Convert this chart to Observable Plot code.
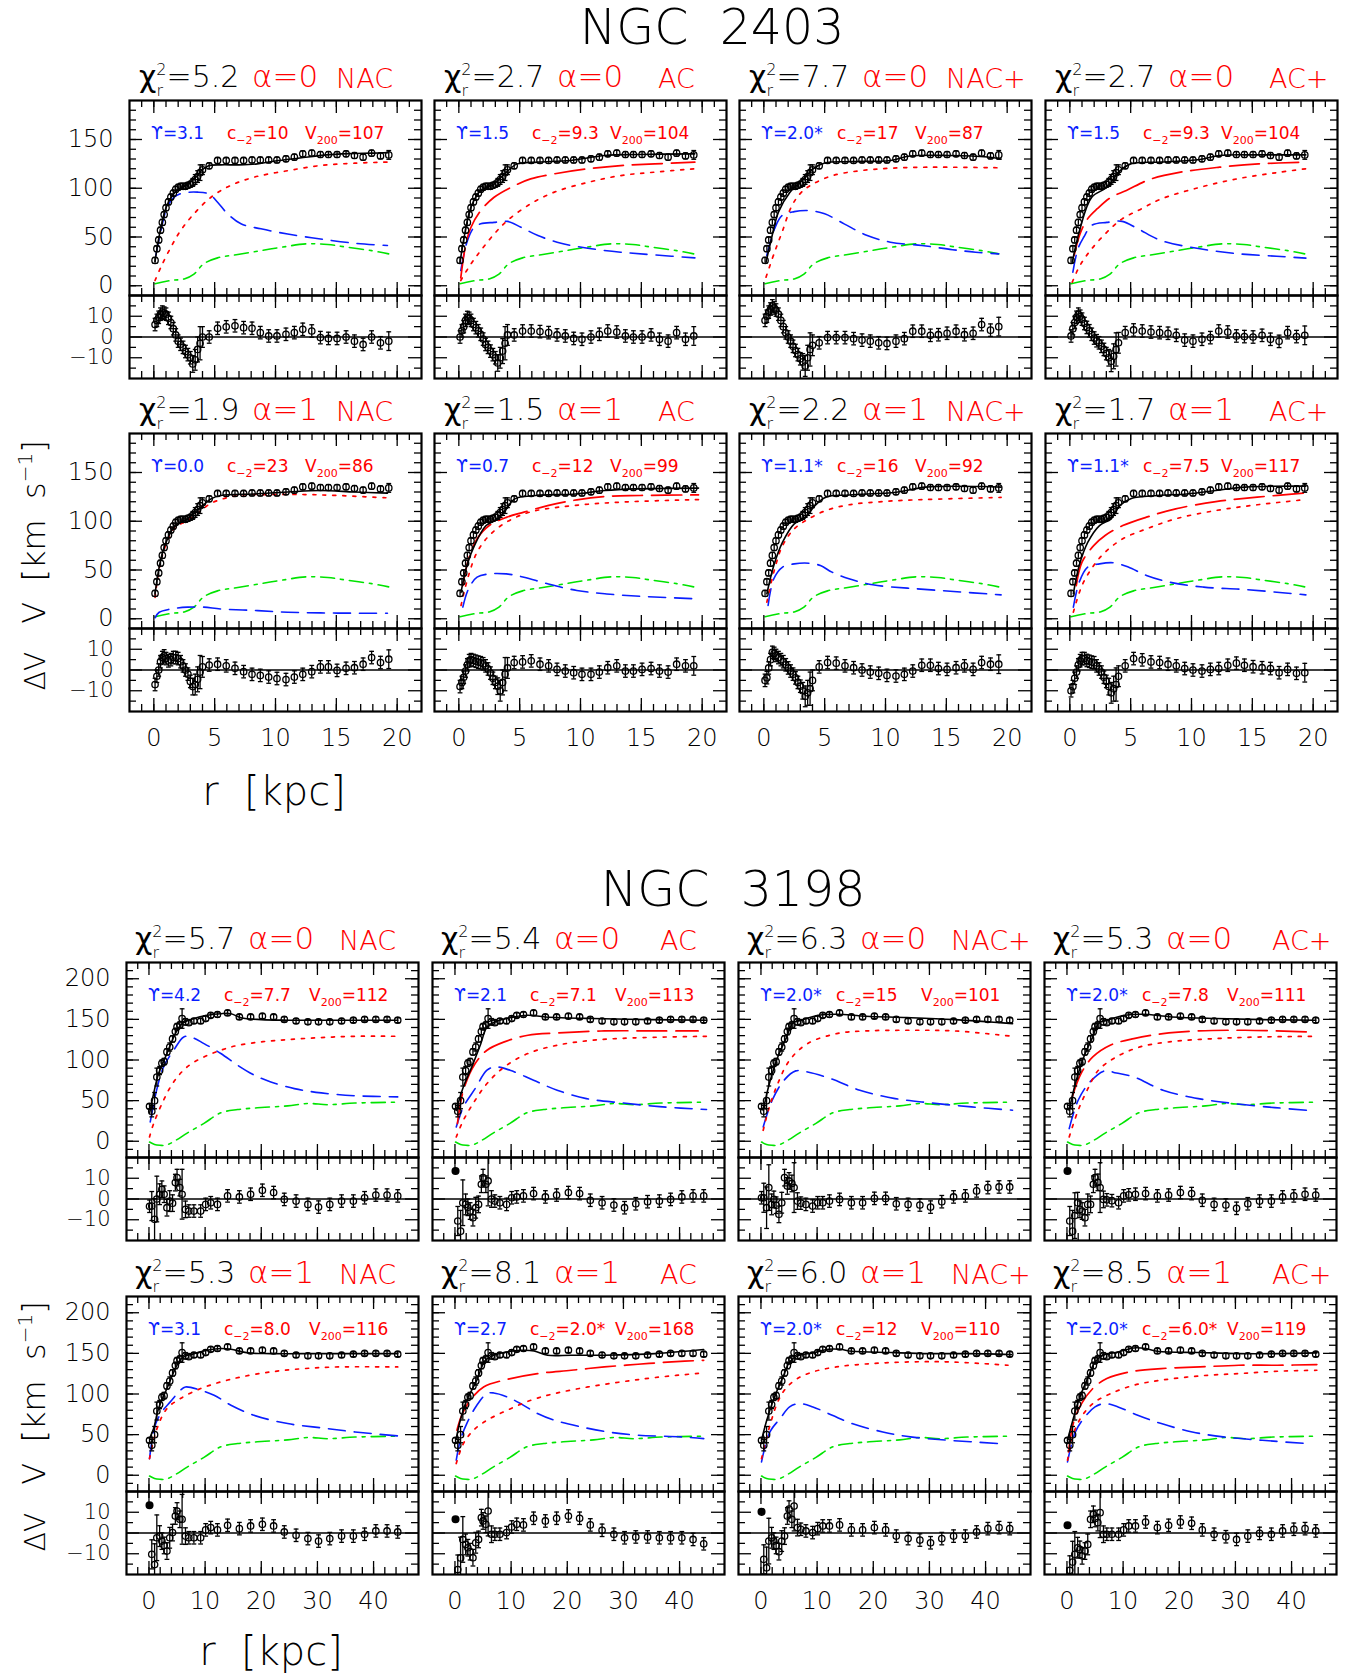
<!DOCTYPE html>
<html><head><meta charset="utf-8">
<script src="https://cdn.jsdelivr.net/npm/d3@7"></script>
<script src="https://cdn.jsdelivr.net/npm/@observablehq/plot@0.6"></script>
<style>
body{margin:0;background:#fff;}
#wrap{position:relative;width:1354px;height:1677px;overflow:hidden;background:#fff;}
#wrap svg.plt{position:absolute;}
#ovl{position:absolute;left:0;top:0;}
</style></head><body><div id="wrap"></div>
<script>
// ---------------- NGC 2403 observed data ----------------
const r2403 = [0.1,0.25,0.4,0.55,0.7,0.85,1.0,1.2,1.4,1.6,1.8,2.0,2.2,2.4,2.6,2.8,3.0,3.2,3.4,3.6,3.8,4.0,4.55,5.24,5.95,6.67,7.38,8.07,8.75,9.44,10.12,10.86,11.55,12.24,12.98,13.69,14.35,15.06,15.8,16.49,17.2,17.9,18.63,19.31];
const v2403 = [26,38,47,57,65,73,80,86,91,95,99,101,102,102,102,103,104,106,109,112,116,119,123,128.5,128.5,128.5,128.5,129,129,129,129,130.2,131.9,135.3,136,134.6,134.6,134.6,135.3,133.6,131.9,136,133.2,134.2];
const e2403 = [3,3,3,3,3,3,3,3,3,3,3,3,3,3,3,3,3,4,5,6,8,5,3,3,3,3,3,3,3,3,3,3,3,3,3,3,3,3,3,3,3,3,3,4.5];
const gas2403 = [[0.1,2],[1.4,5.4],[2.5,7],[3.3,12],[4.1,22.5],[5.24,28.6],[6.9,32],[8.8,36],[10.5,39.5],[12.6,43],[14.3,42.3],[15.9,39.5],[17.9,36],[19.3,32.7]];
// NGC 2403 model curves [r, V] per panel
const tot24_1 = [[0.1,25],[0.5,55],[1,80],[1.5,92],[2,99],[2.5,102],[3,106],[3.5,112],[4,119],[4.5,123],[5.5,124],[7,124],[8.5,125],[10,128],[12,131],[14,134],[16,135.5],[18,136],[19.3,136.5]];
const disk24_1 = [[0.16,31],[0.58,56.6],[1.1,80.6],[1.67,90.8],[2.36,95],[3.6,96],[4.55,94],[5.24,85.7],[6.06,73.8],[7.16,63.5],[8.8,58.4],[11,53],[13.7,48],[16.5,43.6],[19.2,41.3]];
const halo24_1 = [[0.1,5.4],[0.58,19],[1.4,39.5],[2.2,56.6],[3.3,73.8],[4.7,90.8],[6.3,102.8],[8.26,111.4],[11,118],[13.7,123.3],[16.5,125.7],[19.2,126.8]];
const tot24_2 = [[0.1,24],[0.44,50],[1,80.6],[1.8,97.7],[2.9,104.5],[3.9,116.5],[4.8,125],[6.5,126.8],[9.2,128.5],[12,133.6],[14.7,134.6],[19.4,135.3]];
const disk24_2 = [[0.16,15.6],[0.7,46],[1.26,60],[1.8,63.5],[2.9,65],[4,66],[5.1,60],[6.5,51.5],[8.4,43.6],[10.6,38.5],[13.3,34.4],[16.1,31.6],[19.4,28.6]];
const ach24_2 = [[0.16,8],[0.58,43],[1,60],[1.8,77],[2.9,90.8],[4.3,101],[5.9,109.6],[7.85,114.8],[10.6,120],[13.3,123.3],[16.1,125],[19.4,126.8]];
const halo24_2 = [[0.16,5.4],[1,22.5],[1.8,36],[2.9,53],[4,67],[5.9,84],[7.85,96],[10.6,106],[13.3,113],[16.1,116.5],[19.4,120]];
const tot24_3 = [[0.18,24],[0.56,44.7],[1.2,75.5],[2.15,96],[3.3,109.6],[4.06,120],[5,126],[7.2,127.3],[10.4,128.5],[12,133],[15.2,133.6],[18.4,132],[19.5,130]];
const disk24_3 = [[0.24,31],[0.88,58.4],[1.5,72],[2.5,76],[3.74,77],[5,73.8],[6.6,63.5],[8.5,51.5],[10.4,44.7],[13,41.3],[15.5,37],[17.4,34.4],[19.3,32.7]];
const halo24_3 = [[0.18,8.8],[0.88,34.4],[1.5,55],[2.3,82],[3.1,96],[4.06,104.5],[5.65,113],[7.9,118],[10.4,120.5],[13.6,121.6],[19.3,121]];
const tot24_4 = [[0.2,24],[0.83,58],[1.8,90.8],[3.05,101],[4,116.5],[5,125],[7.5,126.8],[10.7,129.5],[12.3,133.6],[15.5,134.2],[19.4,134.2]];
const disk24_4 = [[0.25,14],[0.67,38],[1.15,50],[1.8,62],[3.05,65],[4.3,66],[5.6,58.4],[7.5,46.4],[10.7,37.9],[13.9,32.7],[17,30.3],[19.4,28.3]];
const ach24_4 = [[0.35,31],[0.83,53],[1.46,68.6],[2.26,79],[3.4,90.8],[4.65,97.7],[6.55,109],[9.1,116.5],[12.3,121.6],[15.5,125],[19.4,126.8]];
const halo24_4 = [[0.2,3.7],[0.83,20.7],[1.8,37.9],[3.05,55],[4.3,68.6],[5.9,79],[7.5,89],[10.7,101],[13.9,110],[17,116],[19.4,120]];
const tot24_5 = [[0.1,25.6],[0.44,53],[0.85,73.4],[1.67,94],[2.77,102.5],[3.87,114.4],[4.7,123],[5.5,126.4],[8.26,128],[11,130],[13.7,131.5],[16.5,130],[19.2,128.8]];
const disk24_5 = [[0.1,1],[0.44,6.7],[1.4,10],[2.77,11.9],[4.1,11.9],[5.5,10],[8.26,8.5],[11,6.7],[13.7,6],[16.5,5.7],[19.2,5.7]];
const halo24_5 = [[0.1,22],[0.5,55],[1,76],[1.7,93],[2.8,101],[3.9,111],[4.7,118.5],[6.9,126.4],[9.6,127.4],[12.4,127.4],[15.1,126.4],[19.2,124]];
const tot24_6 = [[0.18,27],[0.66,54.6],[1.28,75],[2.24,95.6],[3.2,102.5],[3.9,112.7],[4.6,123],[6.3,126.4],[9.6,128],[12,131.5],[14.4,133.2],[19.7,134]];
const disk24_6 = [[0.33,12],[0.8,30.7],[1.5,42.6],[2.5,46],[3.9,46],[5.35,42.6],[7.3,35.8],[9.7,29],[12,25.6],[14.9,23],[19.7,20.4]];
const ach24_6 = [[0.33,34],[0.8,61.4],[1.5,82],[2.5,95.6],[3.9,104],[5.35,109.3],[7.3,116],[9.7,122],[12,125.4],[14.9,126.4],[19.7,127.1]];
const halo24_6 = [[0.18,13.6],[0.8,44.4],[1.5,68.3],[2.5,85.4],[3.9,99],[5.8,109.3],[8.2,114.4],[11.1,117.9],[14.4,120.2],[19.7,122.2]];
const tot24_7 = [[0.25,25.6],[0.82,54.6],[1.54,78.5],[2.5,97.3],[3.45,104],[4.2,116],[5.1,124.7],[7,127],[10.9,129.8],[13.3,135],[18,135.6],[19.5,135]];
const disk24_7 = [[0.35,13.6],[0.82,41],[1.54,53],[2.5,56.3],[3.7,57],[4.65,54.6],[5.6,47.8],[7,41],[8.96,34.8],[11.8,31.4],[15.6,28],[19.5,24.5]];
const halo24_7 = [[0.25,17],[0.82,47.8],[1.54,75],[2.5,92.2],[3.7,102.5],[5.1,111],[7,116.9],[9.9,120.3],[13.3,122.3],[19.5,124.4]];
const tot24_8 = [[0.29,25.6],[0.77,54.6],[1.48,78.5],[2.44,95.6],[3.4,102.5],[4.1,116],[5.1,123.6],[7.2,126.4],[9.6,128],[12,131.5],[14.4,135],[19.4,136]];
const disk24_8 = [[0.29,11.9],[0.77,37.5],[1.48,53],[2.44,56.3],[3.6,57.4],[4.8,53],[6.3,44.4],[8.2,37.5],[11,32.4],[14.4,30],[19.4,24.5]];
const ach24_8 = [[0.53,34],[1,58],[1.96,75],[2.9,85.4],[4.35,95.6],[6.3,104.2],[8.7,112.7],[12,120.2],[15.4,124.7],[19.4,129]];
const halo24_8 = [[0.29,6.8],[1,34],[1.96,54.6],[2.9,68.3],[4.35,82],[6.3,92.2],[8.7,102.5],[12,111],[15.4,116.9],[19.4,122.2]];
// NGC 2403 residuals (aligned with r2403)
const res24_1 = [6,8,9.5,11,12,11.5,11,9,7,4,1,-2,-3.5,-5,-7,-8.5,-10,-13,-11,-6,-3,0,0,4.2,4.9,5.4,4.5,4.2,2.1,0.5,0.5,1.3,2.1,3.7,2.9,-0.3,-0.7,-0.7,0,-2,-3.6,0,-2.8,-2];
const res24_2 = [0,3,5,8,9.4,9,8,6,4.5,3,1.3,-1,-3.6,-5,-6.8,-8.5,-10,-12.5,-10,-6.8,-3,1,1,2.9,2.9,2.6,2.1,1,0.5,-0.7,-1.1,0,1.3,2.9,2.4,0.5,0,0,1,-1.1,-2,2.1,-1.1,0.5];
const res24_3 = [8,10,12,13.5,15,14,13,11,8,5,2,0,-2,-4.5,-6.5,-8.5,-10.5,-12,-14,-10,-6,-4,-2.8,-0.3,-0.3,-0.3,-0.8,-1.5,-2,-2.8,-3.1,-2,-0.8,2.8,2.8,0.8,1.1,1.8,2.8,1.1,1.8,6,3.3,5];
const res24_4 = [0.5,4,7,9.5,11,10,8.6,6.5,4.6,3,1.3,-0.5,-1.8,-2.8,-4.5,-6,-8,-10,-11.7,-9.3,-6,-2.8,2.1,3.4,2.9,2.4,2.1,1.8,0.8,-1.5,-2,-1.1,-0.3,2.9,2.4,0.5,0.2,0,0.8,-1.1,-2.1,2.1,0.2,0.8];
const res24_5 = [-7,-3,0,4,6,6.8,5.5,4.4,5,6,6,5.5,4,2,0,-2,-5.5,-8,-7,-4.5,-1,1.5,2.4,2.8,2,0.8,-0.8,-2.1,-2.6,-3.4,-4.1,-4.6,-3.4,-2.1,-0.8,1.5,1.5,-0.2,0.8,1.1,2.8,6,3.6,5.2];
const res24_6 = [-8,-6,-3.5,-0.5,2.5,4.5,5,4.6,4.2,3.8,3.5,3,2,0.5,-1.5,-4,-6,-7.8,-10,-6,-2,1,3.6,3.9,4.4,2.8,2,0.3,-0.5,-1.3,-2.1,-2.1,-1,1.1,2,-0.5,-0.5,0.3,0.7,-0.5,-1,2.8,2,2];
const res24_7 = [-5,-3.7,1,5,8.5,8,7,6,5,4,2.5,1,-0.5,-2,-3.8,-6,-7.8,-10,-12.7,-11,-9,-5,1.5,3.6,3.3,2,1.1,0,-1,-1.6,-2.6,-2.9,-2.1,-0.5,2.3,2.3,0.7,0.3,1.1,2,0.3,3.6,2.8,2.8];
const res24_8 = [-10,-8,-4,-1,2.5,4.5,5.5,5.5,4.6,4.2,3.8,3.5,2,0.5,-1,-3.5,-5.5,-8,-11,-9,-7,-3,2,5.5,4.9,3.9,3.6,2.8,2,0.7,0,-0.5,0.3,0.7,2.3,3.3,2.3,1.6,1.1,0.7,-1.3,0.3,-1.6,-1.3];

// ---------------- NGC 3198 observed data ----------------
const r3198 = [0.1,0.5,1.0,1.4,1.9,2.3,2.7,3.2,3.7,4.2,4.7,5.0,5.5,5.9,6.5,7.1,8.0,9.2,10.1,11.0,12.2,14.0,16.1,18.1,20.2,22.2,24.1,26.2,28.3,30.2,32.2,34.3,36.4,38.4,40.4,42.4,44.3];
const v3198 = [43,37,50,79,87,96,98,110,116,126,135,141,143,151,147,146,148,148,151,155,156,158,153,153,154,153,150,148,147,147,147,148,149,150,150,150,149];
const e3198 = [3,7,10,11,5,4,4,4,5,4,4,4,4,12,4,3,3,3,3,3,3,3,3,3,3,3,3,3,3,3,3,3,3,3,3,3,3];
const gas3198 = [[0.1,-1],[1,-4],[2,-5],[3,-5],[4,-2],[5,2],[6.8,10],[9.8,22],[12.8,35],[15.8,39],[20,41.5],[24.7,43.5],[28.3,46.5],[31.9,45],[36.7,47],[44.3,48]];
const tot31_1 = [[0.1,34],[0.83,58.7],[1.7,83],[3.2,108],[4.7,132.5],[5.9,144.8],[8,151],[10.4,155],[12.8,157],[14.6,157],[16.4,152],[20,149.7],[24.7,149],[30.7,149],[36.7,149],[44.3,149]];
const disk31_1 = [[0.23,23.8],[1.43,64.8],[2.6,91.5],[4.4,112],[6.2,128.4],[7.4,128.4],[9.8,120.2],[12.8,108],[15.8,93.5],[18.8,81.2],[21.7,73],[25.9,64.8],[30.7,59.5],[36.7,56],[44.3,54.6]];
const halo31_1 = [[0.1,5.3],[0.83,21.7],[2.6,50.5],[4.4,73],[6.8,91.5],[9.8,103.8],[12.8,112],[15.8,118],[20,122.3],[24.7,125.1],[30.7,127.6],[36.7,129.2],[44.3,129.2]];
const tot31_2 = [[0.23,38],[1.5,67],[3,91.5],[4.6,120],[5.7,140.7],[7.2,147],[9.8,152],[13,155],[16.1,153],[24.5,151],[34.9,149.7],[44.8,149]];
const disk31_2 = [[0.23,17.6],[1.5,42.3],[3.6,64.8],[5.7,87.4],[7.2,91.5],[9.8,87.4],[14,75],[18.2,62.8],[23.4,52.5],[29.7,47.2],[37,42.3],[44.8,39]];
const ach31_2 = [[0.44,21.7],[1.5,62.8],[3.6,95.6],[5.7,112],[8.8,122.3],[13,130.5],[18.2,133.3],[26.6,135.8],[37,135.8],[43.3,135.8]];
const halo31_2 = [[0.23,5.3],[1.5,25.8],[3.6,50.5],[5.7,71],[8.8,91.5],[13,108],[18.2,118.2],[24.5,124.3],[31.8,127.2],[44.8,129.2]];
const tot31_3 = [[0.4,38],[1.5,71],[3,103.8],[4.6,128.4],[5.6,144.8],[7.2,149],[10.3,155],[13.5,156.3],[18.7,153.8],[26,152.2],[34.4,149.7],[44.8,144.8]];
const disk31_3 = [[0.4,17.6],[2,50.5],[4.1,75],[6.2,86.6],[8.3,85.3],[12.4,77.1],[17.6,62.8],[23.9,52.5],[30.2,47.2],[37.5,42.3],[44.8,38.2]];
const halo31_3 = [[0.4,13.5],[1.5,42.3],[3,71],[5.1,99.7],[8.3,120.2],[13.5,132.5],[18.7,135.8],[26,136.6],[34.4,135.8],[44.8,129.2]];
const tot31_4 = [[0.4,38],[1.5,71],[3,103.8],[4.6,128.4],[5.6,144.8],[7.2,149],[10.3,155],[13.5,156.3],[18.7,153],[26.5,151],[34.9,149.7],[44.3,149]];
const disk31_4 = [[0.4,15.6],[2,50.5],[4.1,73],[6.7,86.6],[8.8,84],[11.9,79.2],[17.1,62.8],[23.4,52.5],[29.7,46.4],[37,41.4],[42.7,38.2]];
const ach31_4 = [[0.94,54.6],[2.5,83.3],[4.6,103.8],[7.7,118.2],[11.9,126.4],[17.1,132.5],[23.4,135.8],[31.7,136.6],[42.7,134.6]];
const halo31_4 = [[0.4,5.3],[2,38.2],[3.6,62.8],[5.6,87.4],[8.8,103.8],[13,116.1],[18.2,122.3],[26.5,126.4],[34.9,128.4],[44.3,129.2]];
const tot31_5 = [[0.1,45],[0.83,57.4],[1.7,82],[3.2,106.7],[4.7,131.3],[5.9,144.4],[8,149.7],[10.4,153.8],[12.8,156],[14.6,155],[17.6,150.6],[21.7,149.7],[30.7,149.7],[44.3,149.7]];
const disk31_5 = [[0.1,20.5],[1.1,61.5],[2.3,78],[3.8,90.3],[5.6,104.6],[6.5,108.7],[9.2,104.6],[11.6,98.5],[14.6,86.2],[18.7,73.8],[24.7,63.6],[30.7,58.3],[36.7,53.3],[44.3,48.4]];
const halo31_5 = [[0.1,20.5],[1.43,57.4],[3.2,82],[5.6,94.4],[9.2,106.7],[12.8,114.9],[16.4,121],[21.7,127.2],[27.7,131.3],[33.7,133.3],[44.3,133.3]];
const tot31_6 = [[0.23,45],[0.95,67.7],[2.1,92.3],[3.9,117],[5.4,141.5],[6.9,147.7],[9.3,151.8],[11.7,153.8],[14.1,153],[16.5,147.7],[20.7,147.7],[26.6,147.7],[35.6,149.7],[44.3,154.7]];
const disk31_6 = [[0.23,18.5],[0.95,43],[2.1,63.6],[3.9,86.2],[5.7,100.5],[6.9,101.3],[9.3,96.4],[11.7,88.2],[14.7,75.9],[17.7,67.7],[22.5,59.5],[27.2,53.3],[32.6,49.2],[40.4,47.2],[44.3,45.1]];
const ach31_6 = [[0.35,55.4],[1.2,73.8],[2.7,92.3],[5.1,108.7],[8.7,117],[14.7,125.1],[20.7,129.2],[26.6,133.3],[32.6,136.6],[38.6,139.5],[44.3,141.5]];
const halo31_6 = [[0.23,14.4],[1.5,39],[3.3,55.4],[5.7,67.7],[9.3,80],[13.5,92.3],[17.7,100.5],[23.7,108.7],[29.6,114.9],[35.6,120.2],[44.3,126]];
const tot31_7 = [[0.1,43],[0.94,65.6],[2.3,94.4],[4.05,123],[5.1,139.5],[6.5,146.9],[9.25,150.6],[12,155],[14.1,155],[16.2,152.6],[23.1,151],[30,149.7],[37,149.7],[44.6,148.5]];
const disk31_7 = [[0.1,16.4],[1.6,53.3],[3.4,69.7],[5.1,84.1],[6.8,88.2],[9.25,84.1],[12.7,73.8],[16.2,63.6],[21.7,53.3],[26.6,47.2],[33.5,43],[42.5,39]];
const halo31_7 = [[0.1,20.5],[1.6,61.5],[3,90.3],[4.4,106.7],[6.5,119],[9.25,127.2],[13.4,133.3],[19.6,137.4],[26.6,139.5],[33.5,139.5],[44,135.4]];
const tot31_8 = [[0.1,43],[0.96,65.6],[2.2,94.4],[3.9,123],[5,139.5],[6.4,147.7],[9.1,151.8],[11.9,156.7],[14,156],[16.1,152.6],[23.7,151],[30.6,149.7],[37.5,149.7],[44.5,150.6]];
const disk31_8 = [[0.1,16.4],[1.5,53.3],[3.2,71.8],[5,84.1],[6.7,88.2],[9.1,84.1],[12.6,73.8],[16.8,63.6],[22.3,53.3],[27.8,47.2],[34.8,43],[42.7,39]];
const ach31_8 = [[0.27,28.7],[1.2,65.6],[2.6,88.2],[4.6,106.7],[7.1,119],[11.2,127.2],[16.8,131.3],[23.7,133.3],[30.6,135.4],[37.5,135.4],[44.5,136.2]];
const halo31_8 = [[0.1,18.5],[1.5,57.4],[3.2,78],[5,90.3],[7.8,100.5],[11.9,110.8],[16.8,117],[23.7,122.3],[30.6,125.1],[37.5,128],[44.5,129.2]];
const res31_1 = [-3.5,-3.4,-9.8,0,2.3,4.7,2.3,-4.2,-1,-2,7.9,10.3,5.5,2.3,-5,-5.8,-5.8,-5.8,-2.6,-1.8,-2.6,1.5,1,2.3,4.2,3.1,-0.2,-1,-2.6,-3.9,-2.6,-1,-1,0.6,1.9,1.9,1.5];
const res31_2 = [13.5,-10.6,-15.5,-1.8,-2.6,-4,-5.8,-9,-4.2,-2.6,7.1,10.3,7.1,8.7,0,-1,-1.8,-2.6,0.6,1,1.5,2.6,1,1.9,3.1,2.6,-0.6,-1.8,-2.9,-4.2,-2.3,-1.3,-1,-0.2,1,1.5,1.5];
const res31_3 = [0.6,0.6,-4.2,5.5,-2.6,-0.2,-3,-7.4,-1.8,10.3,6.3,8.7,7.5,5.5,-1,-2,-2.6,-3.4,-1.8,-1.8,-1,-0.2,-1.8,-1.8,0.3,0.3,-2.3,-2.6,-2.9,-3.9,-1.3,1,1.5,3.9,5.5,5.8,5.8];
const res31_4 = [13.5,-10.6,-15.5,-8,-1.8,-5,-5.8,-9,-2.6,-2.6,7.1,10.3,8,5.5,-0.2,-0.4,-0.8,-1.8,1.5,2,2.3,2.6,1.5,1.9,3.1,2.6,-0.6,-2.6,-2.9,-4.5,-2.3,-1,-1,1,1.5,2.3,1.9];
const res31_5 = [13.4,-10.3,-15.2,-2.3,-1.5,-3.9,-6,-8.7,-2.3,0.2,8.2,10.6,6.6,6.6,-1.5,-2.3,-2.3,-2.3,1.5,2.6,1.5,3.7,2.1,3.4,4.2,3.4,0.5,-1.1,-2.7,-3.9,-2.7,-1.5,-1.5,-0.6,1,1,0.5];
const res31_6 = [6.6,-17.6,-12,-3.1,-5.5,-7.1,-9,-11.9,-4.7,-3.1,7.4,5.8,4.2,10.6,-0.6,-0.6,-0.6,0.2,2.9,4.2,3.9,7.1,5.8,7.1,8.2,7.1,3.9,1.3,-0.6,-2.3,-1.9,-1.9,-2.3,-2.3,-2.3,-3.1,-5.2];
const res31_7 = [10.2,-12.7,-16.8,-3.9,-2.3,-3.9,-6,-9,-3.9,-1.5,8.2,11.5,6.6,13,2.6,1.8,1,0.2,2.1,3.4,3.4,3.9,1.5,1.5,2.6,1.5,-1.5,-2.7,-3.4,-4.7,-2.7,-1.5,-1.5,0.5,2.1,2.6,2.1];
const res31_8 = [3.7,-18,-14,-10.3,-7.1,-7.9,-11,-8.7,-5.5,6.6,9,7,5,9.8,-0.6,-0.6,-0.6,-0.6,1.5,3.4,3.4,5.3,2.6,3.7,5.3,4.7,1.5,-0.6,-1.8,-3.1,-1.5,-0.2,-0.6,1,1.8,2.1,1];
// first residual point drawn as a filled dot (NGC 3198)
const filled3198 = [false, true, false, true, true, true, true, true];

// ---------------- panel labels ----------------
const chi2403 = ["5.2","2.7","7.7","2.7","1.9","1.5","2.2","1.7"];
const chi3198 = ["5.7","5.4","6.3","5.3","5.3","8.1","6.0","8.5"];
const alphas = ["0","0","0","0","1","1","1","1"];
const tags = ["NAC","AC","NAC+","AC+","NAC","AC","NAC+","AC+"];
const ups2403 = ["3.1","1.5","2.0*","1.5","0.0","0.7","1.1*","1.1*"];
const c2403 = ["10","9.3","17","9.3","23","12","16","7.5"];
const v200_2403 = ["107","104","87","104","86","99","92","117"];
const ups3198 = ["4.2","2.1","2.0*","2.0*","3.1","2.7","2.0*","2.0*"];
const c3198 = ["7.7","7.1","15","7.8","8.0","2.0*","12","6.0*"];
const v200_3198 = ["112","113","101","111","116","168","110","119"];
const xTicks2403 = [0,5,10,15,20];
const xTicks3198 = [0,10,20,30,40];
const yTicks2403 = [0,50,100,150];
const yTicks3198 = [0,50,100,150,200];
const resTicks = [-10,0,10];

// ---------------- drawing ----------------
const FONT = '"DejaVu Sans", "Noto Sans", sans-serif';
const BLUE = "#0a1eff", RED = "#ff0000", GREEN = "#00e400";
const W = 292, HM = 195, HR = 83;
const ML = 80, MR = 12, MT = 12, MB = 12;
const wrap = document.getElementById("wrap");

const galaxies = [
  {name: "NGC 2403", titleX: 712, titleY: 44, r: r2403, v: v2403, e: e2403, gas: gas2403,
   xDomain: [-2, 22], yDomain: [-10, 190], xMajor: xTicks2403, xMinor: d3.range(-1, 22, 1),
   yMajor: yTicks2403, yMinor: d3.range(0, 190, 10),
   lefts: [129, 434, 739, 1045], tops: [100, 433], chiDx: 10, alphaDx: 123, nacDx: 207, acDx: 224, vDx: 176,
   chi: chi2403, ups: ups2403, c: c2403, v200: v200_2403, filled: [false,false,false,false,false,false,false,false],
   tot: [tot24_1, tot24_2, tot24_3, tot24_4, tot24_5, tot24_6, tot24_7, tot24_8],
   disk: [disk24_1, disk24_2, disk24_3, disk24_4, disk24_5, disk24_6, disk24_7, disk24_8],
   halo: [halo24_1, halo24_2, halo24_3, halo24_4, halo24_5, halo24_6, halo24_7, halo24_8],
   ach: [null, ach24_2, null, ach24_4, null, ach24_6, null, ach24_8],
   res: [res24_1, res24_2, res24_3, res24_4, res24_5, res24_6, res24_7, res24_8],
   vLabelY: 532, dvLabelY: 671, rLabelX: 274, rLabelY: 805},
  {name: "NGC 3198", titleX: 733, titleY: 906, r: r3198, v: v3198, e: e3198, gas: gas3198,
   xDomain: [-4, 48], yDomain: [-20, 220], xMajor: xTicks3198, xMinor: d3.range(-2, 48, 2),
   yMajor: yTicks3198, yMinor: d3.range(-10, 220, 10),
   lefts: [126, 432, 738, 1044], tops: [962, 1296], chiDx: 9, alphaDx: 122, nacDx: 213, acDx: 228, vDx: 183,
   chi: chi3198, ups: ups3198, c: c3198, v200: v200_3198, filled: filled3198,
   tot: [tot31_1, tot31_2, tot31_3, tot31_4, tot31_5, tot31_6, tot31_7, tot31_8],
   disk: [disk31_1, disk31_2, disk31_3, disk31_4, disk31_5, disk31_6, disk31_7, disk31_8],
   halo: [halo31_1, halo31_2, halo31_3, halo31_4, halo31_5, halo31_6, halo31_7, halo31_8],
   ach: [null, ach31_2, null, ach31_4, null, ach31_6, null, ach31_8],
   res: [res31_1, res31_2, res31_3, res31_4, res31_5, res31_6, res31_7, res31_8],
   vLabelY: 1393, dvLabelY: 1532, rLabelX: 271, rLabelY: 1665}
];

const capSymbol = {draw(ctx, size) { const w = Math.sqrt(size / Math.PI); ctx.moveTo(-w, 0); ctx.lineTo(w, 0); }};

function frameTicks(g, yMaj, yMin, h) {
  const M = 13, m = 7, sw = 1.3;
  return [
    Plot.tickY(yMaj, {insetRight: W - M, strokeWidth: sw}),
    Plot.tickY(yMaj, {insetLeft: W - M, strokeWidth: sw}),
    Plot.tickY(yMin, {insetRight: W - m, strokeWidth: sw}),
    Plot.tickY(yMin, {insetLeft: W - m, strokeWidth: sw}),
    Plot.tickX(g.xMajor, {insetBottom: h - M, strokeWidth: sw}),
    Plot.tickX(g.xMajor, {insetTop: h - M, strokeWidth: sw}),
    Plot.tickX(g.xMinor, {insetBottom: h - m, strokeWidth: sw}),
    Plot.tickX(g.xMinor, {insetTop: h - m, strokeWidth: sw})
  ];
}

function dataMarks(rows, filledFirst) {
  const first = filledFirst ? rows.slice(0, 1) : [];
  const rest = filledFirst ? rows.slice(1) : rows;
  return [
    Plot.ruleX(rest, {x: "r", y1: d => d.v - d.e, y2: d => d.v + d.e, stroke: "black", strokeWidth: 1.3, clip: true}),
    Plot.dot(rest, {x: "r", y: d => d.v + d.e, symbol: capSymbol, r: 2.4, stroke: "black", fill: "none", strokeWidth: 1.3, clip: true}),
    Plot.dot(rest, {x: "r", y: d => d.v - d.e, symbol: capSymbol, r: 2.4, stroke: "black", fill: "none", strokeWidth: 1.3, clip: true}),
    Plot.dot(rest, {x: "r", y: "v", r: 3.2, stroke: "black", fill: "none", strokeWidth: 1.3, clip: true}),
    Plot.dot(first, {x: "r", y: "v", r: 3.3, fill: "black", stroke: "black", clip: true})
  ];
}

function line(data, color, dash, w) {
  return Plot.line(data || [], {x: d => d[0], y: d => d[1], stroke: color, strokeWidth: w,
    strokeDasharray: dash, curve: "catmull-rom", clip: true});
}

function place(svg, L, T) {
  svg.classList.add("plt");
  svg.style.left = (L - ML) + "px";
  svg.style.top = (T - MT) + "px";
  wrap.appendChild(svg);
}

const plotStyle = {background: "transparent", overflow: "visible", fontFamily: FONT, fontSize: "24px", color: "#000"};

galaxies.forEach(g => {
  for (let i = 0; i < 8; i++) {
    const col = i % 4, row = Math.floor(i / 4);
    const L = g.lefts[col], T = g.tops[row];
    const obs = g.r.map((r, k) => ({r, v: g.v[k], e: g.e[k]}));
    const res = g.r.map((r, k) => ({r, v: g.res[i][k], e: g.e[k]}));
    const main = Plot.plot({
      width: ML + W + MR, height: MT + HM + MB,
      marginLeft: ML, marginRight: MR, marginTop: MT, marginBottom: MB,
      x: {domain: g.xDomain}, y: {domain: g.yDomain},
      style: plotStyle,
      marks: [
        line(g.gas, GREEN, "14,6,3,6", 1.6),
        line(g.disk[i], BLUE, "17,9", 1.6),
        line(g.halo[i], RED, "3,7", 1.7),
        line(g.ach[i], RED, "30,9", 1.7),
        line(g.tot[i], "black", null, 1.6),
        ...dataMarks(obs, false),
        ...frameTicks(g, g.yMajor, g.yMinor, HM),
        Plot.frame({stroke: "black", strokeWidth: 2.2}),
        Plot.axisX({ticks: [], label: null}),
        col === 0
          ? Plot.axisY({ticks: g.yMajor, tickSize: 0, tickPadding: 16, fontSize: 24, fontWeight: 300, label: null})
          : Plot.axisY({ticks: [], label: null})
      ]
    });
    place(main, L, T);
    const resid = Plot.plot({
      width: ML + W + MR, height: MT + HR + MB,
      marginLeft: ML, marginRight: MR, marginTop: MT, marginBottom: MB,
      x: {domain: g.xDomain}, y: {domain: [-20, 20]},
      style: plotStyle,
      marks: [
        Plot.ruleY([0], {stroke: "black", strokeWidth: 1.3}),
        ...dataMarks(res, g.filled[i]),
        ...frameTicks(g, resTicks, [-15, -5, 5, 15], HR),
        Plot.frame({stroke: "black", strokeWidth: 2.2}),
        row === 1
          ? Plot.axisX({ticks: g.xMajor, tickSize: 0, tickPadding: 17, fontSize: 24, fontWeight: 300, label: null})
          : Plot.axisX({ticks: [], label: null}),
        col === 0
          ? Plot.axisY({ticks: resTicks, tickSize: 0, tickPadding: 16, fontSize: 21, fontWeight: 300, label: null})
          : Plot.axisY({ticks: [], label: null})
      ]
    });
    place(resid, L, T + HM);
  }
});

// ---------------- text overlay ----------------
const ov = d3.select(wrap).append("svg").attr("id", "ovl").attr("width", 1354).attr("height", 1677)
  .style("font-family", FONT).style("font-weight", 300);

galaxies.forEach(g => {
  ov.append("text").attr("x", g.titleX).attr("y", g.titleY).attr("text-anchor", "middle")
    .attr("font-size", 49).attr("fill", "black").style("white-space", "pre").text(g.name.replace(" ", "  "));
  for (let i = 0; i < 8; i++) {
    const col = i % 4, row = Math.floor(i / 4);
    const L = g.lefts[col], T = g.tops[row];
    const y = T - 13;
    const t = ov.append("text").attr("x", L + g.chiDx).attr("y", y).attr("font-size", 30).attr("fill", "black");
    t.append("tspan").attr("font-weight", 400).text("χ");
    t.append("tspan").attr("font-size", 16).attr("dy", -12).text("2");
    t.append("tspan").attr("font-size", 16).attr("dx", -10).attr("dy", 21).text("r");
    t.append("tspan").attr("dx", 3.5).attr("dy", -9).text("=" + g.chi[i]);
    ov.append("text").attr("x", L + g.alphaDx).attr("y", y).attr("font-size", 31)
      .attr("fill", RED).text("α=" + alphas[i]);
    ov.append("text").attr("x", L + (tags[i].startsWith("N") ? g.nacDx : g.acDx)).attr("y", y + 1)
      .attr("font-size", 27).attr("fill", RED).text(tags[i]);
    const yl = T + 39;
    ov.append("text").attr("x", L + 22).attr("y", yl).attr("font-size", 17).attr("font-weight", 400)
      .attr("fill", BLUE).text("ϒ=" + g.ups[i]);
    const c = ov.append("text").attr("x", L + 98).attr("y", yl).attr("font-size", 17).attr("font-weight", 400).attr("fill", RED);
    c.append("tspan").text("c");
    c.append("tspan").attr("font-size", 11).attr("dy", 5).text("−2");
    c.append("tspan").attr("dy", -5).text("=" + g.c[i]);
    const v = ov.append("text").attr("x", L + g.vDx).attr("y", yl).attr("font-size", 17).attr("font-weight", 400).attr("fill", RED);
    v.append("tspan").text("V");
    v.append("tspan").attr("font-size", 11).attr("dy", 5).text("200");
    v.append("tspan").attr("dy", -5).text("=" + g.v200[i]);
  }
  const vl = ov.append("text").attr("transform", `translate(45,${g.vLabelY}) rotate(-90)`)
    .attr("text-anchor", "middle").attr("font-size", 32).attr("fill", "black").style("white-space", "pre");
  vl.append("tspan").text("V  [km  s");
  vl.append("tspan").attr("font-size", 20).attr("dy", -13).text("−1");
  vl.append("tspan").attr("dy", 13).text("]");
  ov.append("text").attr("transform", `translate(45,${g.dvLabelY}) rotate(-90)`)
    .attr("text-anchor", "middle").attr("font-size", 28).attr("fill", "black").text("ΔV");
  ov.append("text").attr("x", g.rLabelX).attr("y", g.rLabelY).attr("text-anchor", "middle")
    .attr("font-size", 40).attr("fill", "black").style("white-space", "pre").text("r  [kpc]");
});
</script>
</body></html>
